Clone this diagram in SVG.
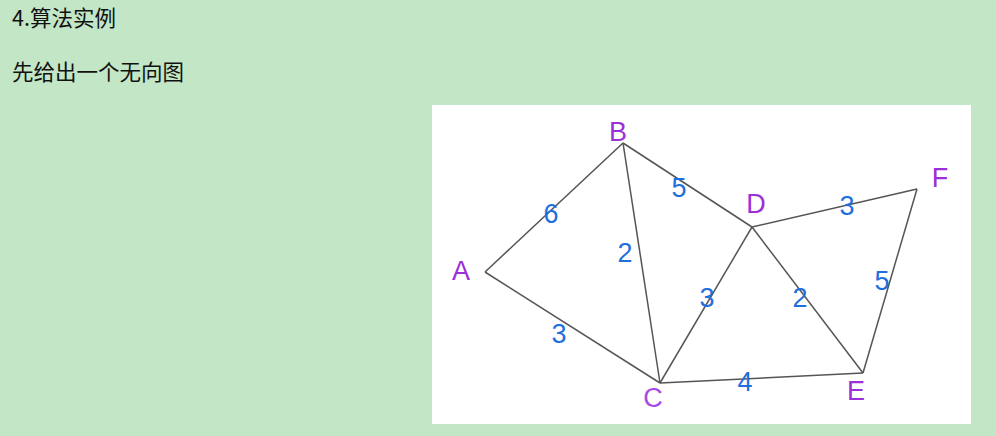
<svg xmlns="http://www.w3.org/2000/svg" width="996" height="436" viewBox="0 0 996 436">
<style>
.t{font-family:"Noto Sans CJK SC","Noto Sans",sans-serif;font-size:21.5px;fill:#111}
.n{font-family:"Liberation Sans",Arial,sans-serif;font-size:27px;fill:#9b2fd8;text-anchor:middle}
.w{font-family:"Liberation Sans",Arial,sans-serif;font-size:27px;fill:#1f6fdc;text-anchor:middle}
.e{stroke:#555;stroke-width:1.5;fill:none}
</style>
<rect width="996" height="436" fill="#c2e6c6"/>
<text class="t" x="12" y="26">4.算法实例</text>
<text class="t" x="12" y="80">先给出一个无向图</text>
<rect x="432" y="105" width="539" height="319" fill="#ffffff"/>
<g id="connectors">
<line class="e" x1="485" y1="272" x2="623" y2="143"/>
<line class="e" x1="485" y1="272" x2="660" y2="383"/>
<line class="e" x1="623" y1="143" x2="660" y2="383"/>
<line class="e" x1="623" y1="143" x2="752" y2="227"/>
<line class="e" x1="660" y1="383" x2="752" y2="227"/>
<line class="e" x1="660" y1="383" x2="863" y2="373"/>
<line class="e" x1="752" y1="227" x2="917" y2="189"/>
<line class="e" x1="752" y1="227" x2="863" y2="373"/>
<line class="e" x1="917" y1="189" x2="863" y2="373"/>
<text class="w" x="551" y="223">6</text>
<text class="w" x="559" y="343">3</text>
<text class="w" x="625" y="262">2</text>
<text class="w" x="679" y="197">5</text>
<text class="w" x="707" y="307">3</text>
<text class="w" x="745" y="391">4</text>
<text class="w" x="847" y="215">3</text>
<text class="w" x="800" y="307">2</text>
<text class="w" x="882" y="290">5</text>
</g>
<g id="node-A"><text class="n" x="461" y="280">A</text></g>
<g id="node-B"><text class="n" x="618" y="141">B</text></g>
<g id="node-C"><text class="n" x="653" y="407" style="fill:#a64ae6">C</text></g>
<g id="node-D"><text class="n" x="756" y="213">D</text></g>
<g id="node-E"><text class="n" x="856" y="400">E</text></g>
<g id="node-F"><text class="n" x="940" y="187">F</text></g>
</svg>
